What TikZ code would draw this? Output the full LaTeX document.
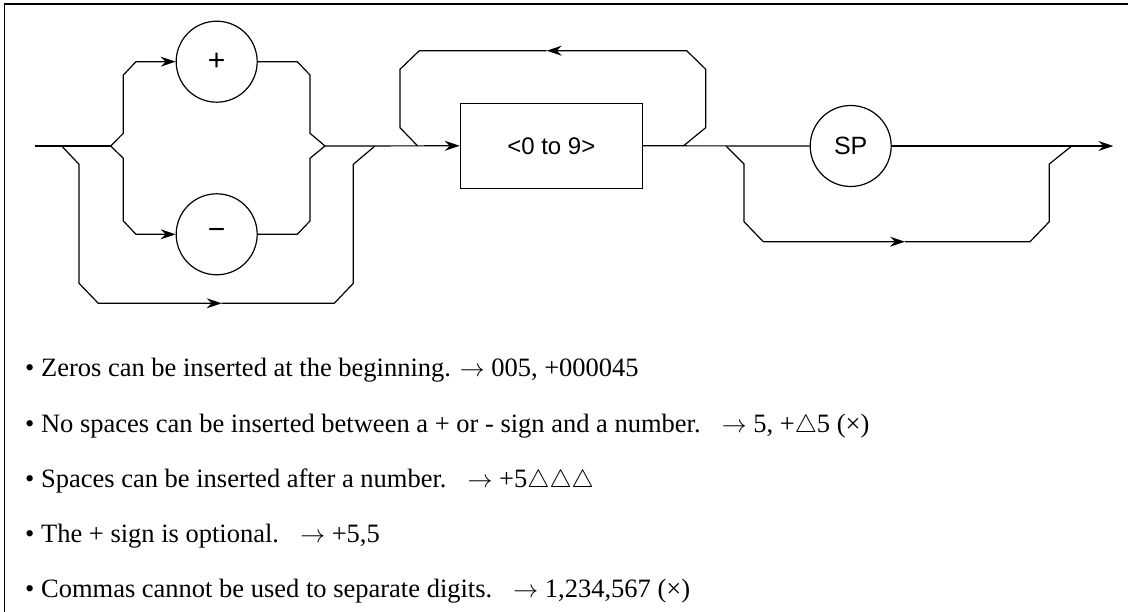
\documentclass[tikz,border=0pt]{standalone}
\usepackage{fontspec}
\setmainfont{Liberation Serif}
\setsansfont{Liberation Sans}
\usetikzlibrary{arrows.meta, positioning, calc}
\tikzset{
  rail/.style={line width=1.2pt},
  link/.style={rail, -{Stealth[length=15pt, width=10pt, inset=5pt]}},
  term/.style={draw, circle, line width=1.2pt, minimum size=81pt, inner sep=0pt, font=\sffamily\fontsize{25}{25}\selectfont},
  sign/.style={term, font=\sffamily\fontsize{30}{30}\selectfont},
  nonterm/.style={draw, rectangle, line width=1.2pt, minimum width=182pt, minimum height=85pt, inner sep=0pt, font=\sffamily\fontsize{24}{24}\selectfont},
  note/.style={anchor=base west, inner sep=0pt, font=\fontsize{26.5}{30}\selectfont}
}

\begin{document}
\begin{tikzpicture}[x=1pt, y=-1pt]
        \useasboundingbox (0,0) rectangle (1128,612);
        % Frame
        \draw[line width=1.6pt] (4.5,612) -- (4.5,4) -- (1128,4);

        % Terminals
        \node[sign] (plus)  at (216.7, 61.7) {+};
        \node[sign] (minus) at (216.7,234.3) {−};
        \node[nonterm] (digits) at (551.3,145.8) {<0 to 9>};
        \node[term] (sp) at (850.7,146) {SP};

        % Junctions on the main line
        \coordinate (start)     at (35,146);
        \coordinate (fork)      at (110.7,146);
        \coordinate (join)      at (325,146);
        \coordinate (skipin)    at (61.7,146);
        \coordinate (skipout)   at (375,146);
        \coordinate (loopin)    at (417.7,146);
        \coordinate (loopout)   at (683.3,146);
        \coordinate (spskipin)  at (726,146);
        \coordinate (spskipout) at (1071.7,146);
        \coordinate (end)       at (1113.3,146);
        \coordinate (skipmid)   at (221.7,303.3);
        \coordinate (loopmid)   at (546.7,50.7);
        \coordinate (spmid)     at (905,241.7);

        % Main line
        \draw[rail] (start) -- (fork);
        \draw[link] (join) -- (digits.west);
        \draw[rail] (digits.east) -- (sp.west);
        \draw[link] (sp.east) -- (end);

        % Sign branches
        \draw[link] (fork) -- (123.3,133.3) -- (123.3,75) -- (136,61.7) -- (plus.west);
        \draw[rail] (plus.east) -- (297.3,61.7) -- (310,75) -- (310,133.3) -- (join);
        \draw[link] (fork) -- (123.3,158.3) -- (123.3,221) -- (136,234.3) -- (minus.west);
        \draw[rail] (minus.east) -- (297.3,234.3) -- (310,221) -- (310,158.3) -- (join);

        % No sign
        \draw[link] (skipin) -- (79,164.3) -- (79,283.3) -- (98.3,303.3) -- (skipmid);
        \draw[rail] (skipmid) -- (334.3,303.3) -- (353.3,283.3) -- (353.3,164.3) -- (skipout);

        % Repeat digits
        \draw[link] (loopout) -- (705.7,127.7) -- (705.7,69.3) -- (686.7,50.7) -- (loopmid);
        \draw[rail] (loopmid) -- (419.3,50.7) -- (400,69.3) -- (400,127.7) -- (loopin);

        % No space
        \draw[link] (spskipin) -- (744,164) -- (744,221.7) -- (763.3,241.7) -- (spmid);
        \draw[rail] (spmid) -- (1030,241.7) -- (1049.3,221.7) -- (1049.3,164) -- (spskipout);

        % Notes
        \node[note] (note1) at (25,377) {• Zeros can be inserted at the beginning. $\rightarrow$ 005, +000045};
        \node[note] (note2) at (25,432) {• No spaces can be inserted between a + or - sign and a number.\hspace{0.8em}$\rightarrow$ 5, +$\triangle$5 (×)};
        \node[note] (note3) at (25,487) {• Spaces can be inserted after a number.\hspace{0.8em}$\rightarrow$ +5$\triangle\triangle\triangle$};
        \node[note] (note4) at (25,542) {• The + sign is optional.\hspace{0.8em}$\rightarrow$ +5,5};
        \node[note] (note5) at (25,597) {• Commas cannot be used to separate digits.\hspace{0.8em}$\rightarrow$ 1,234,567 (×)};
    \end{tikzpicture}
\end{document}
